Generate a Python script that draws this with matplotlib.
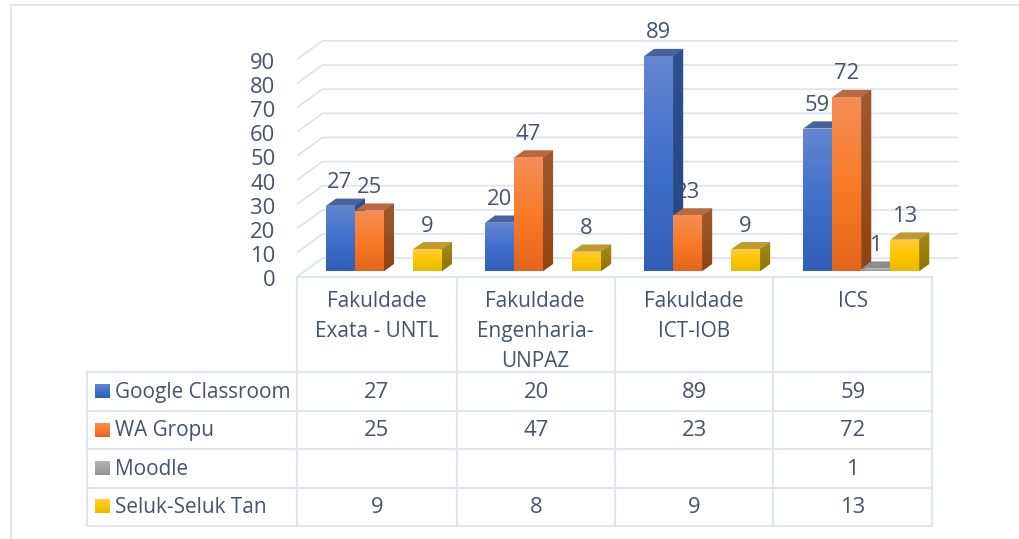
import numpy as np
import matplotlib
matplotlib.use("Agg")
import matplotlib.pyplot as plt
from matplotlib.colors import LinearSegmentedColormap
from matplotlib.patches import Polygon
from matplotlib.transforms import ScaledTranslation

categories = ["Fakuldade\nExata - UNTL", "Fakuldade\nEngenharia-\nUNPAZ", "Fakuldade\nICT-IOB", "ICS"]
series_names = ["Google Classroom", "WA Gropu", "Moodle", "Seluk-Seluk Tan"]
google = [27, 20, 89, 59]
wa = [25, 47, 23, 72]
moodle = [None, None, None, 1]
seluk = [9, 8, 9, 13]
yticks = [0, 10, 20, 30, 40, 50, 60, 70, 80, 90]

W, H = 1019, 539
TXT = "#44546a"
GRID = "#e0e4ec"
plt.rcParams["font.family"] = "Open Sans"
FS = 14.95
FS_NUM = 15.8

fig = plt.figure(figsize=(W / 100, H / 100), dpi=100, facecolor="white")

# layout in pixels
L, R = 297.0, 932.0
Y0, PX_PER_UNIT = 276.7, 2.415
YMAX = 96
ax = fig.add_axes([L / W, 1 - Y0 / H, (R - L) / W, YMAX * PX_PER_UNIT / H])
ax.set_xlim(0, 4)
ax.set_ylim(0, YMAX)
ax.patch.set_visible(False)
for s in ax.spines.values():
    s.set_visible(False)

PXX = 4 / (R - L)
PXY = 1 / PX_PER_UNIT
BASE = 5.7 * PXY
BAR_W = 29 * PXX
START = 29 * PXX
STEP = 159.1 * PXX
DX, DY = 10 * PXX, 7.2 * PXY

styles = [
    dict(stops=["#6486d0", "#4070cc", "#2f5fb6"], top="#46639f", side=("#2f4f8e", "#24467f")),
    dict(stops=["#f48d58", "#f97b28", "#e3651b"], top="#b8693f", side=("#a0582f", "#8f4410")),
    dict(stops=["#b4b4b4", "#a5a5a5", "#939393"], top="#8c8c8c", side=("#7c7c7c", "#6f6f6f")),
    dict(stops=["#ffcd3a", "#ffc600", "#e9b800"], top="#bf9a30", side=("#a68a1c", "#8f7300")),
]

# gridlines: back wall and left wall
BACK_X, BACK_Y = 25.5 * PXX, 18.5 * PXY
for v in yticks:
    ax.plot([0, BACK_X, 4 + 26.5 * PXX], [v, v + BACK_Y, v + BACK_Y], color=GRID, lw=1.3,
            clip_on=False, zorder=1, solid_capstyle="butt", solid_joinstyle="miter")

all_series = [google, wa, moodle, seluk]
z = 5
for c in range(4):
    for i, vals in enumerate(all_series):
        v = vals[c]
        if v is None:
            continue
        st = styles[i]
        x0 = c * STEP + START + i * BAR_W
        top = BASE + v
        bar = ax.bar(x0, v, width=BAR_W, bottom=BASE, align="edge", color=st["stops"][1],
                     edgecolor="none", zorder=z + 2, clip_on=False)[0]
        cmap = LinearSegmentedColormap.from_list("g", st["stops"][::-1])
        im = ax.imshow(np.linspace(0, 1, 128)[:, None], origin="lower", cmap=cmap, aspect="auto",
                       extent=(x0, x0 + BAR_W, BASE, top), zorder=z + 2.1, interpolation="bilinear")
        im.set_clip_path(bar)
        ax.add_patch(Polygon([(x0, top), (x0 + DX, top + DY), (x0 + BAR_W + DX, top + DY), (x0 + BAR_W, top)],
                             closed=True, fc=st["top"], ec="none", zorder=z, clip_on=False))
        side = Polygon([(x0 + BAR_W, BASE), (x0 + BAR_W + DX, BASE + DY), (x0 + BAR_W + DX, top + DY), (x0 + BAR_W, top)],
                       closed=True, fc=st["side"][0], ec="none", zorder=z, clip_on=False)
        ax.add_patch(side)
        cm2 = LinearSegmentedColormap.from_list("s", [st["side"][1], st["side"][0]])
        im2 = ax.imshow(np.linspace(0, 1, 64)[:, None], origin="lower", cmap=cm2, aspect="auto",
                        extent=(x0 + BAR_W, x0 + BAR_W + DX, BASE, top + DY), zorder=z + 0.1)
        im2.set_clip_path(side)
        ax.text(x0 + BAR_W / 2 - 0.5 * PXX, top + 23.2 * PXY, str(v), ha="center", va="center", fontsize=FS_NUM,
                color=TXT, zorder=2, clip_on=False)
        z += 3

ax.set_xlim(0, 4)
ax.set_ylim(0, YMAX)
ax.set_yticks(yticks)
ax.set_yticklabels([str(t) for t in yticks], fontsize=FS_NUM, color=TXT)
ax.set_xticks(np.arange(4) + 0.5)
ax.set_xticklabels(categories, fontsize=FS, color=TXT, linespacing=1.55)
ax.tick_params(axis="y", length=0, pad=15.5)
ax.tick_params(axis="x", length=0, pad=10.5)
shift = ScaledTranslation(0, -1.5 / 100, fig.dpi_scale_trans)
for lab in ax.get_yticklabels():
    lab.set_transform(lab.get_transform() + shift)

# frame and data table, in pixel coordinates
ov = fig.add_axes([0, 0, 1, 1], zorder=-1)
ov.set_xlim(0, W)
ov.set_ylim(H, 0)
ov.axis("off")
ov.plot([11, 11], [5, H], color=GRID, lw=1.3)
ov.plot([11, W], [5, 5], color=GRID, lw=1.3)

cols = [297, 456.75, 615.5, 773.5, 932]
rows = [372, 410.5, 449, 487.5, 525.5]
for x in cols:
    ov.plot([x, x], [Y0, rows[-1]], color=GRID, lw=1.5)
ov.plot([87.5, 87.5], [rows[0], rows[-1]], color=GRID, lw=1.5)
ov.plot([L, R], [Y0, Y0], color=GRID, lw=1.5)
for y in rows:
    ov.plot([87.5, R], [y, y], color=GRID, lw=1.5)

for i, (name, vals) in enumerate(zip(series_names, all_series)):
    yc = (rows[i] + rows[i + 1]) / 2
    ov.imshow(np.linspace(0, 1, 32)[:, None], cmap=LinearSegmentedColormap.from_list("k", styles[i]["stops"]),
              extent=(95, 110, yc + 7, yc - 7), aspect="auto", zorder=3)
    ov.text(115, yc + 1, name, ha="left", va="center", fontsize=FS, color=TXT)
    for c, v in enumerate(vals):
        if v is not None:
            ov.text((cols[c] + cols[c + 1]) / 2, yc + 1, str(v), ha="center", va="center", fontsize=FS_NUM, color=TXT)
ov.set_xlim(0, W)
ov.set_ylim(H, 0)

fig.savefig("out.png", dpi=100, facecolor="white")
